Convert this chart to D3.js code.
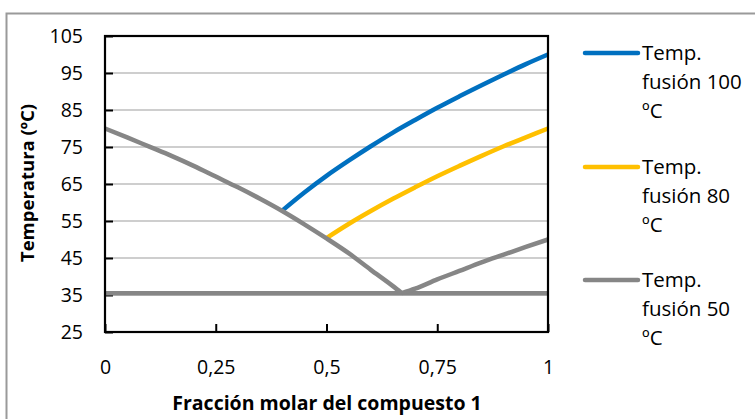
<!DOCTYPE html>
<html>
<head>
<meta charset="utf-8">
<script src="https://cdn.jsdelivr.net/npm/d3@7"></script>
<style>
  html, body { margin: 0; padding: 0; background: #fff; }
  svg { display: block; font-family: "Open Sans", sans-serif; }
</style>
</head>
<body>
<svg id="chart" width="755" height="419"></svg>
<script>
// Solid–liquid phase diagram of a binary mixture
const xTicks = [0, 0.25, 0.5, 0.75, 1];
const xTickLabels = ["0", "0,25", "0,5", "0,75", "1"];
const yTicks = [25, 35, 45, 55, 65, 75, 85, 95, 105];

// Liquidus of compound 2 (melts at 80 ºC), shared by every series
const leftX = [0, 0.05, 0.1, 0.15, 0.2, 0.25, 0.3, 0.35, 0.4, 0.45, 0.5, 0.55, 0.6, 0.65, 0.67];
const leftT = [80, 77.6, 75.1, 72.6, 69.9, 67.0, 64.1, 61.0, 57.7, 54.1, 50.3, 46.3, 41.8, 37.4, 35.5];

// Liquidus of compound 1, one per melting point
const blueX = [0.4, 0.45, 0.5, 0.55, 0.6, 0.65, 0.7, 0.75, 0.8, 0.85, 0.9, 0.95, 1];
const blueT = [57.8, 62.7, 67.2, 71.3, 75.2, 78.9, 82.3, 85.6, 88.7, 91.7, 94.6, 97.4, 100];
const yellowX = [0.5, 0.55, 0.6, 0.65, 0.7, 0.75, 0.8, 0.85, 0.9, 0.95, 1];
const yellowT = [50.4, 54.2, 57.7, 61.0, 64.1, 67.1, 69.9, 72.6, 75.2, 77.6, 80];
const grayX = [0.67, 0.7, 0.75, 0.8, 0.85, 0.9, 0.95, 1];
const grayT = [35.5, 36.7, 39.2, 41.5, 43.8, 45.9, 48.0, 50];

// Eutectic line
const eutecticX = [0, 1];
const eutecticT = [35.5, 35.5];

const seriesNames = ["Temp. fusión 100 ºC", "Temp. fusión 80 ºC", "Temp. fusión 50 ºC"];
const seriesColors = ["#0070C0", "#FFC000", "#868686"];

const svg = d3.select("#chart");
const m = { left: 105, top: 36, right: 548, bottom: 332 };

const x = d3.scaleLinear().domain([0, 1]).range([m.left, m.right]);
const y = d3.scaleLinear().domain([25, 105]).range([m.bottom, m.top]);

// outer chart border (top and left visible)
svg.append("path")
  .attr("d", "M6.5,430 V13.5 H760")
  .attr("fill", "none").attr("stroke", "#9a9a9a").attr("stroke-width", 2);

// horizontal gridlines
svg.append("g")
  .selectAll("line")
  .data(yTicks.filter(t => t > 25 && t < 105))
  .join("line")
  .attr("x1", m.left).attr("x2", m.right)
  .attr("y1", d => y(d)).attr("y2", d => y(d))
  .attr("stroke", "#9d9d9d").attr("stroke-width", 1.2);

// axes with inward ticks
const yAxis = d3.axisLeft(y).tickValues(yTicks).tickSize(-8).tickPadding(22).tickFormat(d3.format("d"));
const gy = svg.append("g").attr("transform", `translate(${m.left},0)`).call(yAxis);
gy.select(".domain").remove();
gy.selectAll(".tick line").attr("stroke", "#000").attr("stroke-width", 2);
gy.selectAll(".tick text").attr("font-size", 19.5).attr("fill", "#000")
  .attr("font-family", "Open Sans, sans-serif");

const xAxis = d3.axisBottom(x).tickValues(xTicks).tickSize(-8).tickPadding(28)
  .tickFormat((d, i) => xTickLabels[i]);
const gx = svg.append("g").attr("transform", `translate(0,${m.bottom})`).call(xAxis);
gx.select(".domain").remove();
gx.selectAll(".tick line").attr("stroke", "#000").attr("stroke-width", 2);
gx.selectAll(".tick text").attr("font-size", 19.5).attr("fill", "#000")
  .attr("font-family", "Open Sans, sans-serif");

// series lines
const line = d3.line().x(d => x(d[0])).y(d => y(d[1])).curve(d3.curveMonotoneX);
const zip = (a, b) => a.map((v, i) => [v, b[i]]);

const plot = svg.append("g");
plot.append("path").datum(zip(blueX, blueT)).attr("d", line)
  .attr("fill", "none").attr("stroke", seriesColors[0]).attr("stroke-width", 4.5);
plot.append("path").datum(zip(yellowX, yellowT)).attr("d", line)
  .attr("fill", "none").attr("stroke", seriesColors[1]).attr("stroke-width", 4.5);
plot.append("path").datum(zip(eutecticX, eutecticT)).attr("d", line)
  .attr("fill", "none").attr("stroke", seriesColors[2]).attr("stroke-width", 4.5);
plot.append("path").datum(zip(leftX, leftT)).attr("d", line)
  .attr("fill", "none").attr("stroke", seriesColors[2]).attr("stroke-width", 4.5);
plot.append("path").datum(zip(grayX, grayT)).attr("d", line)
  .attr("fill", "none").attr("stroke", seriesColors[2]).attr("stroke-width", 4.5);

// plot frame
svg.append("rect")
  .attr("x", m.left).attr("y", m.top)
  .attr("width", m.right - m.left).attr("height", m.bottom - m.top)
  .attr("fill", "none").attr("stroke", "#000").attr("stroke-width", 2.2);

// axis titles
svg.append("text")
  .attr("x", 327).attr("y", 410)
  .attr("text-anchor", "middle").attr("font-weight", "bold").attr("font-size", 19.5)
  .attr("fill", "#000")
  .text("Fracción molar del compuesto 1");

svg.append("text")
  .attr("transform", `translate(34,183) rotate(-90)`)
  .attr("text-anchor", "middle").attr("font-weight", "bold").attr("font-size", 18.5)
  .attr("fill", "#000")
  .text("Temperatura (ºC)");

// legend
const legendY = [53, 167, 280];
const legend = svg.append("g");
seriesNames.forEach((name, i) => {
  const g = legend.append("g").attr("transform", `translate(0,${legendY[i]})`);
  g.append("line").attr("x1", 585).attr("x2", 638).attr("y1", 0).attr("y2", 0)
    .attr("stroke", seriesColors[i]).attr("stroke-width", 4.5).attr("stroke-linecap", "round");
  const words = name.split(" ");
  const rows = [words[0], words[1] + " " + words[2], words[3]];
  g.append("text").attr("x", 642).attr("y", 0)
    .attr("font-size", 20.5).attr("fill", "#000")
    .selectAll("tspan").data(rows).join("tspan")
    .attr("x", 642).attr("dy", (d, j) => j === 0 ? "0.35em" : "29px")
    .text(d => d);
});
</script>
</body>
</html>
